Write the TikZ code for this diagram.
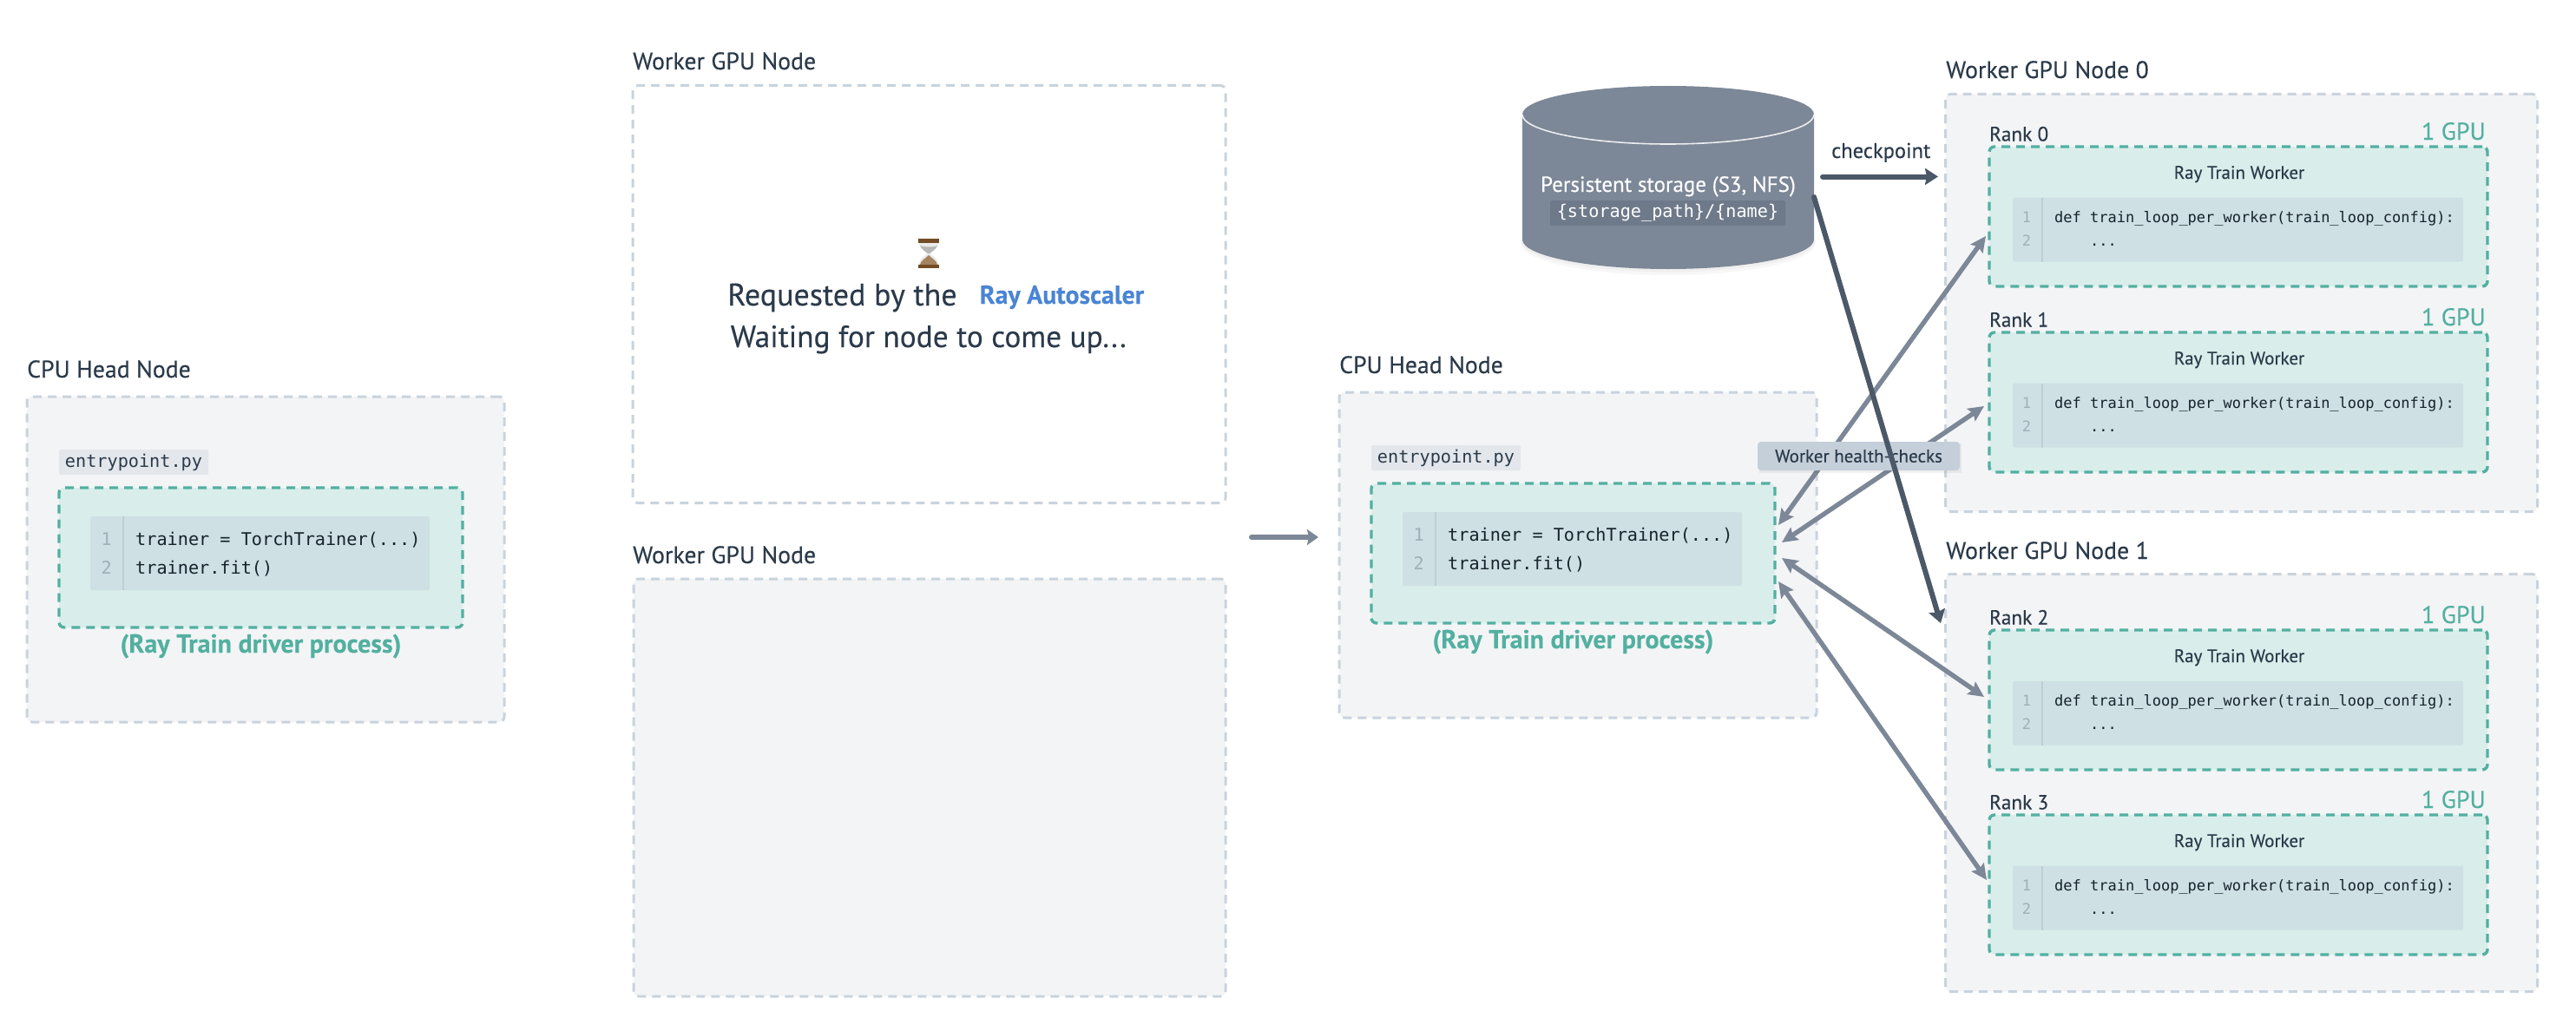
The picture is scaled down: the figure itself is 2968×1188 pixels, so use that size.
\documentclass[tikz,border=0pt]{standalone}
\usepackage{fontspec}
\setmainfont{PT Sans}[FakeBold=0.25,BoldFeatures={FakeBold=0.15}]
\setmonofont{DejaVu Sans Mono}
\usetikzlibrary{arrows.meta}
\definecolor{ink}{HTML}{2B3A4A}
\definecolor{borderg}{HTML}{C9D3DD}
\definecolor{nodefill}{HTML}{F3F4F6}
\definecolor{teal}{HTML}{52B0A0}
\definecolor{tealfill}{HTML}{D9EEEB}
\definecolor{codefill}{HTML}{CEE0E3}
\definecolor{gutter}{HTML}{BBCFD4}
\definecolor{lineno}{HTML}{9FB0BA}
\definecolor{codeink}{HTML}{17222C}
\definecolor{cyl}{HTML}{7C8797}
\definecolor{cylchip}{HTML}{6E7A8A}
\definecolor{arrowg}{HTML}{7C8797}
\definecolor{arrowd}{HTML}{4B5867}
\definecolor{chipa}{HTML}{E3E7EC}
\definecolor{chipb}{HTML}{C5CFDA}
\definecolor{rayblue}{HTML}{4A85D4}
\tikzset{
  x=1pt,y=-1pt,
  outerbox/.style={anchor=north west,inner sep=0pt,outer sep=0pt,draw=borderg,fill=nodefill,line width=3pt,dash pattern=on 10pt off 7pt,rounded corners=6pt},
  emptybox/.style={outerbox,fill=white},
  procbox/.style={anchor=north west,inner sep=0pt,outer sep=0pt,draw=teal,fill=tealfill,line width=3.4pt,dash pattern=on 10pt off 7pt,rounded corners=6pt},
  codebg/.style={anchor=north west,inner sep=0pt,outer sep=0pt,fill=codefill,rounded corners=1.5pt},
  gutterline/.style={draw=gutter,line width=1.6pt},
  title/.style={anchor=base west,inner sep=0pt,text=ink,font=\fontsize{27.8}{30}\selectfont},
  ranklabel/.style={anchor=base west,inner sep=0pt,text=ink,font=\fontsize{23.3}{26}\selectfont},
  gpulabel/.style={anchor=base east,inner sep=0pt,text=teal,font=\fontsize{28}{30}\selectfont},
  workerlabel/.style={anchor=base,inner sep=0pt,text=ink,font=\fontsize{21}{24}\selectfont},
  codesmall/.style={anchor=base west,inner sep=0pt,text=codeink,font=\ttfamily\fontsize{17}{20}\selectfont},
  numsmall/.style={anchor=base,inner sep=0pt,text=lineno,font=\ttfamily\fontsize{17}{20}\selectfont},
  codebig/.style={anchor=base west,inner sep=0pt,text=codeink,font=\ttfamily\fontsize{20.2}{24}\selectfont},
  numbig/.style={anchor=base,inner sep=0pt,text=lineno,font=\ttfamily\fontsize{20.2}{24}\selectfont},
  filechip/.style={inner sep=0pt,fill=chipa,rounded corners=2pt,minimum width=172pt,minimum height=29pt,text=ink,font=\ttfamily\fontsize{20.2}{24}\selectfont},
  driverlabel/.style={anchor=base,inner sep=0pt,text=teal,font=\bfseries\fontsize{30}{33}\selectfont},
  bigtext/.style={anchor=base west,inner sep=0pt,text=ink,font=\fontsize{36}{40}\selectfont},
  grayarrow/.style={draw=arrowg,line width=5.4pt,line cap=round,{Stealth[length=18pt,width=17pt,inset=3pt]}-{Stealth[length=18pt,width=17pt,inset=3pt]}},
  thickgray/.style={draw=arrowg,line width=6pt,line cap=round,-{Stealth[length=13pt,width=18pt,inset=2pt]}},
  thickdark/.style={draw=arrowd,line width=6pt,line cap=round,-{Stealth[length=15pt,width=19pt,inset=2pt]}},
  healthchip/.style={inner sep=0pt,fill=chipb,rounded corners=4pt,minimum width=233pt,minimum height=33pt,text=ink,font=\fontsize{21}{24}\selectfont},
}
\newcommand{\headnode}[3]{% prefix, dx, dy
  \begin{scope}[shift={(#2,#3)}]
    \node[title] (#1title) at (31,435) {CPU Head Node};
    \node[outerbox,minimum width=550pt,minimum height=375pt] (#1box) at (31,457) {};
    \node[filechip] (#1file) at (154,532.5) {entrypoint.py};
    \node[procbox,minimum width=465pt,minimum height=161pt] (#1proc) at (68,562) {};
    \node[codebg,minimum width=391pt,minimum height=85pt] (#1code) at (104,595) {};
    \draw[gutterline] (142,595) -- (142,680);
    \node[numbig] (#1n1) at (122.6,628) {1};
    \node[numbig] (#1n2) at (122.6,661) {2};
    \node[codebig] (#1l1) at (156,628) {trainer = TorchTrainer(...)};
    \node[codebig] (#1l2) at (156,661) {trainer.fit()};
    \node[driverlabel] (#1drv) at (300.5,752) {(Ray Train driver process)};
  \end{scope}
}
\newcommand{\rankproc}[3]{% number, y offset, gpu
  \begin{scope}[shift={(0,#2)}]
    \node[ranklabel] (rank#1) at (2292,162.5) {Rank #1};
    \node[gpulabel] (gpu#1) at (2864,161) {1 GPU};
    \node[procbox,minimum width=574pt,minimum height=161pt] (proc#1) at (2292,169) {};
    \node[workerlabel] (wk#1) at (2580,206) {Ray Train Worker};
    \node[codebg,minimum width=519pt,minimum height=74pt] (code#1) at (2319,227.5) {};
    \draw[gutterline] (2353,227.5) -- (2353,301.5);
    \node[numsmall] (na#1) at (2335,256) {1};
    \node[numsmall] (nb#1) at (2335,283) {2};
    \node[codesmall] (la#1) at (2367,256) {def train\_loop\_per\_worker(train\_loop\_config):};
    \node[codesmall] (lb#1) at (2408,283) {...};
  \end{scope}
}
\begin{document}
\begin{tikzpicture}
\useasboundingbox (0,0) rectangle (2968,1188);
\fill[white] (0,0) rectangle (2968,1188);

% left head node
\headnode{a}{0}{0}

% pending workers
\node[title] (pendtitle) at (729,80) {Worker GPU Node};
\node[emptybox,minimum width=683pt,minimum height=481pt] (pendbox) at (729,98.5) {};
\node[title] (idletitle) at (729,649) {Worker GPU Node};
\node[outerbox,minimum width=682pt,minimum height=481pt] (idlebox) at (730,667) {};

% hourglass
\fill[black!8] (1059,279) .. controls (1059,288) and (1067,289) .. (1068,292) .. controls (1067,295) and (1059,296) .. (1059,305) -- (1081,305) .. controls (1081,296) and (1073,295) .. (1072,292) .. controls (1073,289) and (1081,288) .. (1081,279) -- cycle;
\fill[black!28] (1060,283) .. controls (1062,288) and (1067,290) .. (1069,292) -- (1071,292) .. controls (1073,290) and (1078,288) .. (1080,283) .. controls (1076,285) and (1064,285) .. (1060,283) -- cycle;
\fill[brown!70!black!75] (1060,305) .. controls (1061,300) and (1066,298) .. (1070,294) .. controls (1074,298) and (1079,300) .. (1080,305) -- cycle;
\fill[brown!60!black] (1058,275) rectangle (1082,279.5);
\fill[brown!60!black] (1058,304.5) rectangle (1082,309);

\node[bigtext] (req) at (838,352) {Requested by the};
\node[anchor=base west,inner sep=0pt,text=rayblue,font=\bfseries\fontsize{29.8}{32}\selectfont] (auto) at (1128.5,350) {Ray Autoscaler};
\node[bigtext,font=\fontsize{35.4}{40}\selectfont] (wait) at (841.6,400) {Waiting for node to come up...};

% transition arrow
\coordinate (transa) at (1442,619);
\coordinate (transb) at (1519,619);
\draw[thickgray] (transa) -- (transb);

% right head node
\headnode{b}{1512}{-5}

% storage
\begin{scope}
  \fill[black,opacity=.03] (1922,280) ellipse [x radius=170,y radius=37];
  \fill[black,opacity=.03] (1922,278) ellipse [x radius=169,y radius=35.5];
  \fill[cyl] (1754,132) -- (1754,276) .. controls (1754,294.5) and (1829,310) .. (1922,310) .. controls (2015,310) and (2090,294.5) .. (2090,276) -- (2090,132) .. controls (2090,113.5) and (2015,99) .. (1922,99) .. controls (1829,99) and (1754,113.5) .. (1754,132) -- cycle;
  \draw[white!85!cyl,line width=1.6pt] (1754,132) .. controls (1754,150.5) and (1829,166) .. (1922,166) .. controls (2015,166) and (2090,150.5) .. (2090,132);
\end{scope}
\node[anchor=base,inner sep=0pt,text=white,font=\fontsize{25}{28}\selectfont] (stor) at (1922,221) {Persistent storage (S3, NFS)};
\node[inner sep=0pt,fill=cylchip,rounded corners=2pt,minimum width=271pt,minimum height=29pt,text=white,font=\ttfamily\fontsize{20.2}{24}\selectfont] (storpath) at (1921.5,245.5) {\{storage\_path\}/\{name\}};

% right workers
\node[title] (w0title) at (2242,90) {Worker GPU Node 0};
\node[outerbox,minimum width=682pt,minimum height=481pt] (w0box) at (2241.5,108.5) {};
\node[title] (w1title) at (2242,644) {Worker GPU Node 1};
\node[outerbox,minimum width=682pt,minimum height=481pt] (w1box) at (2241.5,661.5) {};
\rankproc{0}{0}{}
\rankproc{1}{214}{}
\rankproc{2}{557}{}
\rankproc{3}{770}{}

% connectors
\coordinate (ha) at (2049,605);
\coordinate (hb) at (2053,625);
\coordinate (hc) at (2053,643);
\coordinate (hd) at (2049,670);
\coordinate (ra) at (2288,272);
\coordinate (rb) at (2286,468);
\coordinate (rc) at (2286,803);
\coordinate (rd) at (2289,1014);
\draw[grayarrow] (ha) -- (ra);
\draw[grayarrow] (hb) -- (rb);
\draw[grayarrow] (hc) -- (rc);
\draw[grayarrow] (hd) -- (rd);

\fill[black,opacity=.05] (2027,511) rectangle (2260,545);
\node[healthchip] (health) at (2141.5,525.5) {Worker health-checks};

\node[anchor=base west,inner sep=0pt,text=ink,font=\fontsize{24.5}{28}\selectfont] (ckpt) at (2110,182) {checkpoint};
\coordinate (cka) at (2100,203.5);
\coordinate (ckb) at (2233,203.5);
\draw[thickdark] (cka) -- (ckb);
\coordinate (sta) at (2090,227);
\coordinate (stb) at (2236,718);
\draw[thickdark] (sta) -- (stb);
\end{tikzpicture}
\end{document}
